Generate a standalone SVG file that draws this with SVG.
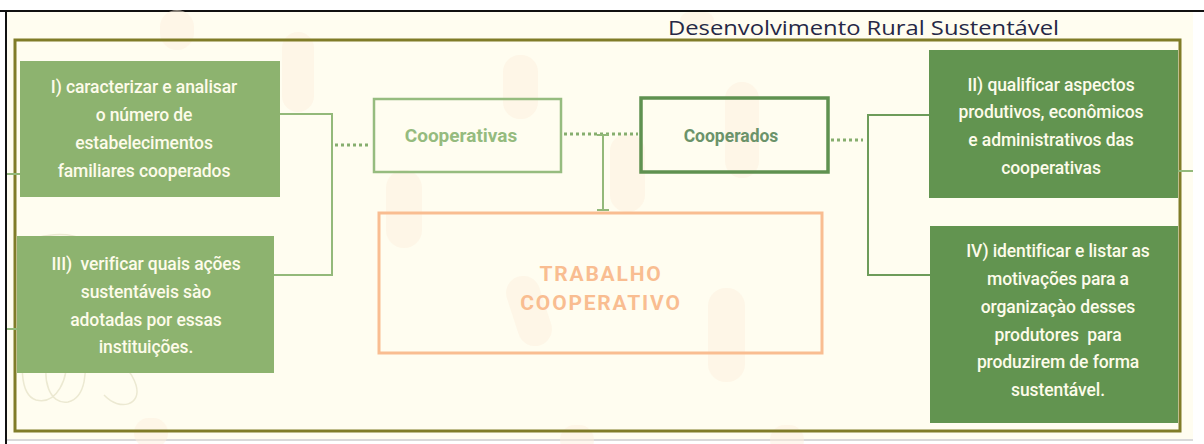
<svg xmlns="http://www.w3.org/2000/svg" width="1204" height="444" viewBox="0 0 1204 444">
  <defs>
    <style>
      .bg { fill: #fffdf0; }
      .blob { fill: #fdf0de; opacity: 0.5; }
      .flower { fill: none; stroke: #ece9d2; stroke-width: 1.5; }
      .frame { fill: none; stroke: #807c28; stroke-width: 3; }
      .title { font-family: "Open Sans", "Noto Sans", sans-serif; font-size: 20px; fill: #262846; }
      .nodeLight { fill: #8db36f; }
      .nodeDark { fill: #629450; }
      .ntext { font-family: Roboto, "Liberation Sans", sans-serif; font-size: 17.5px; font-weight: 500; fill: #fdfbea; text-anchor: middle; letter-spacing: -0.1px; }
      .conn { fill: none; stroke: #93b97a; stroke-width: 2; }
      .connDark { fill: none; stroke: #6d9c5a; stroke-width: 2; }
      .dot { fill: none; stroke: #86ae6e; stroke-width: 3; stroke-dasharray: 3 3; }
      .coopBox { fill: none; stroke: #96bc7f; stroke-width: 2.5; }
      .coopdBox { fill: none; stroke: #5f9150; stroke-width: 3.5; }
      .trabBox { fill: none; stroke: #f9bd91; stroke-width: 3; }
      .ctext { font-family: Roboto, "Liberation Sans", sans-serif; font-weight: bold; text-anchor: middle; }
    </style>
  </defs>

  <!-- page -->
  <rect x="0" y="0" width="1204" height="444" fill="#ffffff"/>
  <rect class="bg" x="7" y="12" width="1186" height="428"/>
  <line x1="0" y1="11" x2="1204" y2="11" stroke="#111" stroke-width="2"/>
  <line x1="6" y1="11" x2="6" y2="444" stroke="#111" stroke-width="2"/>
  <line x1="7" y1="440" x2="1193" y2="440" stroke="#d9d9d9" stroke-width="2"/>

  <!-- decorative background -->
  <g id="decor">
    <rect class="blob" x="160" y="10" width="34" height="40" rx="17"/>
    <rect class="blob" x="282" y="32" width="32" height="80" rx="16"/>
    <rect class="blob" x="503" y="55" width="35" height="64" rx="17"/>
    <rect class="blob" x="725" y="82" width="34" height="96" rx="17"/>
    <rect class="blob" x="386" y="170" width="36" height="78" rx="18"/>
    <rect class="blob" x="610" y="134" width="35" height="78" rx="17"/>
    <rect class="blob" x="708" y="288" width="37" height="94" rx="18"/>
    <rect class="blob" x="512" y="275" width="34" height="72" rx="17" transform="rotate(-18 529 311)"/>
    <rect class="blob" x="134" y="418" width="34" height="30" rx="15"/>
    <rect class="blob" x="560" y="425" width="34" height="30" rx="15"/>
    <rect class="blob" x="770" y="425" width="34" height="30" rx="15"/>
    <rect class="blob" x="1118" y="260" width="30" height="80" rx="15"/>
    <rect class="blob" x="680" y="12" width="34" height="18" rx="9"/>
    <path class="flower" d="M30,330 C18,360 20,395 36,400 C56,405 70,380 66,350"/>
    <path class="flower" d="M50,352 C40,380 50,405 68,402 C85,398 90,370 80,345"/>
    <path class="flower" d="M60,342 C90,330 128,360 136,385 C142,405 120,412 104,395"/>
    <path class="flower" d="M18,246 C40,232 70,232 84,240"/>
  </g>

  <!-- outer frame -->
  <rect class="frame" x="15" y="40" width="1165" height="391"/>
  <text class="title" x="668" y="35" textLength="391" lengthAdjust="spacingAndGlyphs">Desenvolvimento Rural Sustentável</text>

  <!-- connectors -->
  <g id="connectors">
    <line class="conn" x1="7" y1="174" x2="22" y2="174"/>
    <line class="conn" x1="7" y1="329" x2="17" y2="329"/>
    <line class="conn" x1="1172" y1="171" x2="1193" y2="171"/>
    <polyline class="conn" points="280,114 332,114 332,275 274,275"/>
    <line class="dot" x1="335" y1="145" x2="371" y2="145"/>
    <line class="dot" x1="564" y1="134" x2="638" y2="134"/>
    <line class="conn" x1="603" y1="134" x2="603" y2="210"/>
    <line class="conn" x1="597" y1="210" x2="609" y2="210"/>
    <line class="conn" x1="597" y1="135" x2="609" y2="135"/>
    <line class="dot" x1="831" y1="140" x2="863" y2="140"/>
    <polyline class="connDark" points="935,115 868,115 868,275 930,275"/>
    <circle cx="936" cy="115" r="4" fill="#86ae6e"/>
  </g>

  <!-- node I -->
  <g id="node-I">
    <rect class="nodeLight" x="20" y="61" width="260" height="136"/>
    <text class="ntext" x="144" y="93">I) caracterizar e analisar</text>
    <text class="ntext" x="144" y="121">o número de</text>
    <text class="ntext" x="144" y="149">estabelecimentos</text>
    <text class="ntext" x="144" y="177">familiares cooperados</text>
  </g>

  <!-- node III -->
  <g id="node-III">
    <rect class="nodeLight" x="17" y="236" width="257" height="137"/>
    <text class="ntext" x="146" y="270" xml:space="preserve">III)  verificar quais ações</text>
    <text class="ntext" x="146" y="298">sustentáveis sào</text>
    <text class="ntext" x="146" y="326">adotadas por essas</text>
    <text class="ntext" x="146" y="353">instituições.</text>
  </g>

  <!-- Cooperativas -->
  <g id="node-cooperativas">
    <rect class="coopBox" x="374" y="99" width="187" height="73"/>
    <text class="ctext" x="461" y="142" font-size="19" fill="#95bb7e">Cooperativas</text>
  </g>

  <!-- Cooperados -->
  <g id="node-cooperados">
    <rect class="coopdBox" x="641" y="98" width="187" height="74"/>
    <text class="ctext" x="731" y="142" font-size="17.5" fill="#6b936a">Cooperados</text>
  </g>

  <!-- Trabalho cooperativo -->
  <g id="node-trabalho">
    <rect class="trabBox" x="379" y="213" width="443" height="140"/>
    <text class="ctext" x="601" y="281" font-size="21" fill="#f9bd91" letter-spacing="1.8">TRABALHO</text>
    <text class="ctext" x="601" y="310" font-size="21" fill="#f9bd91" letter-spacing="1.8">COOPERATIVO</text>
  </g>

  <!-- node II -->
  <g id="node-II">
    <rect class="nodeDark" x="929" y="50" width="249" height="148"/>
    <text class="ntext" x="1051" y="91">II) qualificar aspectos</text>
    <text class="ntext" x="1051" y="118">produtivos, econômicos</text>
    <text class="ntext" x="1051" y="146">e administrativos das</text>
    <text class="ntext" x="1051" y="174">cooperativas</text>
  </g>

  <!-- node IV -->
  <g id="node-IV">
    <rect class="nodeDark" x="930" y="226" width="248" height="197"/>
    <text class="ntext" x="1058" y="257">IV) identificar e listar as</text>
    <text class="ntext" x="1058" y="285">motivações para a</text>
    <text class="ntext" x="1058" y="313">organizaçào desses</text>
    <text class="ntext" x="1058" y="341" xml:space="preserve">produtores  para</text>
    <text class="ntext" x="1058" y="368">produzirem de forma</text>
    <text class="ntext" x="1058" y="396">sustentável.</text>
  </g>
</svg>
